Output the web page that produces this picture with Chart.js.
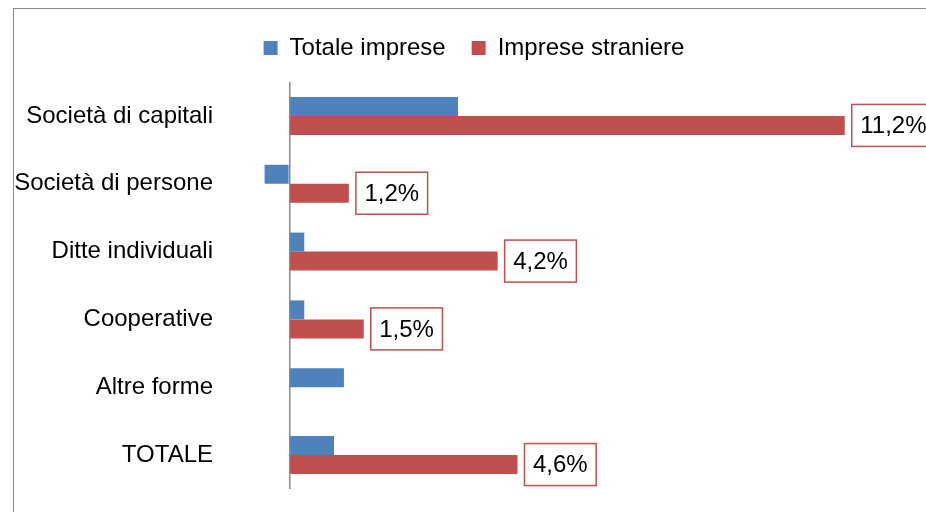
<!DOCTYPE html>
<html>
<head>
<meta charset="utf-8">
<script src="https://cdn.jsdelivr.net/npm/chart.js@4.4.0/dist/chart.umd.min.js"></script>
<style>
  html, body { margin: 0; padding: 0; background: #fff; overflow: hidden; }
  #frame {
    position: absolute; left: 13px; top: 8px;
    width: 930px; height: 520px;
    border: 1px solid #8c8c8c;
  }
</style>
</head>
<body>
<div id="frame"><canvas id="myChart"></canvas></div>
<script>
"use strict";

const categories = ["Società di capitali", "Società di persone", "Ditte individuali", "Cooperative", "Altre forme", "TOTALE"];
const totaleImprese = [3.4, -0.5, 0.3, 0.3, 1.1, 0.9];
const impreseStraniere = [11.2, 1.2, 4.2, 1.5, null, 4.6];

const blue = "#4F81BD";
const red = "#C0504D";
const fontFamily = "'Liberation Sans', Arial, sans-serif";

// extra space under the legend
const legendMargin = {
  id: "legendMargin",
  beforeInit(chart) {
    const fit = chart.legend.fit;
    chart.legend.fit = function() {
      fit.bind(chart.legend)();
      this.height += 12;
    };
  }
};

// boxed labels next to the red bars
const boxLabels = {
  id: "boxLabels",
  afterDatasetsDraw(chart) {
    const ctx = chart.ctx;
    const meta = chart.getDatasetMeta(1);
    ctx.save();
    ctx.font = "24px " + fontFamily;
    meta.data.forEach((bar, i) => {
      const v = impreseStraniere[i];
      if (v === null) return;
      const text = v.toFixed(1).replace(".", ",") + "%";
      const w = ctx.measureText(text).width + 17;
      const h = 42;
      const x = bar.x + 7;
      const y = bar.y - h / 2;
      ctx.fillStyle = "#fff";
      ctx.fillRect(x, y, w, h);
      ctx.strokeStyle = red;
      ctx.lineWidth = 1.5;
      ctx.strokeRect(x, y, w, h);
      ctx.fillStyle = "#000";
      ctx.textBaseline = "middle";
      ctx.textAlign = "left";
      ctx.fillText(text, x + 8.5, bar.y + 1);
    });
    ctx.restore();
  }
};

const data1 = {
  labels: categories,
  datasets: [
    {
      label: "Totale imprese",
      data: totaleImprese,
      backgroundColor: blue,
      categoryPercentage: 0.56,
      barPercentage: 1,
    }, {
      label: "Imprese straniere",
      data: impreseStraniere,
      backgroundColor: red,
      categoryPercentage: 0.56,
      barPercentage: 1,
    },
  ],
};

const config = {
  type: "bar",
  data: data1,
  plugins: [legendMargin, boxLabels],
  options: {
    indexAxis: "y",
    responsive: true,
    maintainAspectRatio: false,
    animation: false,
    layout: { padding: { top: 1, right: 10, bottom: 40, left: 0 } },
    plugins: {
      legend: {
        position: "top",
        labels: {
          boxWidth: 14,
          boxHeight: 14,
          padding: 26,
          color: "#000",
          font: { family: fontFamily, size: 24 },
        },
      },
      tooltip: { enabled: false },
    },
    scales: {
      x: {
        min: -1.5,
        max: 13,
        ticks: { display: false, stepSize: 0.5 },
        border: { display: false },
        grid: {
          drawTicks: false,
          lineWidth: 1.5,
          color: (c) => (c.tick && c.tick.value === 0 ? "#8a8a8a" : "transparent"),
        },
      },
      y: {
        afterFit: (s) => { s.width = 201; },
        border: { display: false },
        grid: { display: false, drawTicks: false },
        ticks: { color: "#000", font: { family: fontFamily, size: 24 }, padding: 2 },
      },
    },
  },
};

new Chart(document.getElementById("myChart").getContext("2d"), config);
</script>
</body>
</html>
